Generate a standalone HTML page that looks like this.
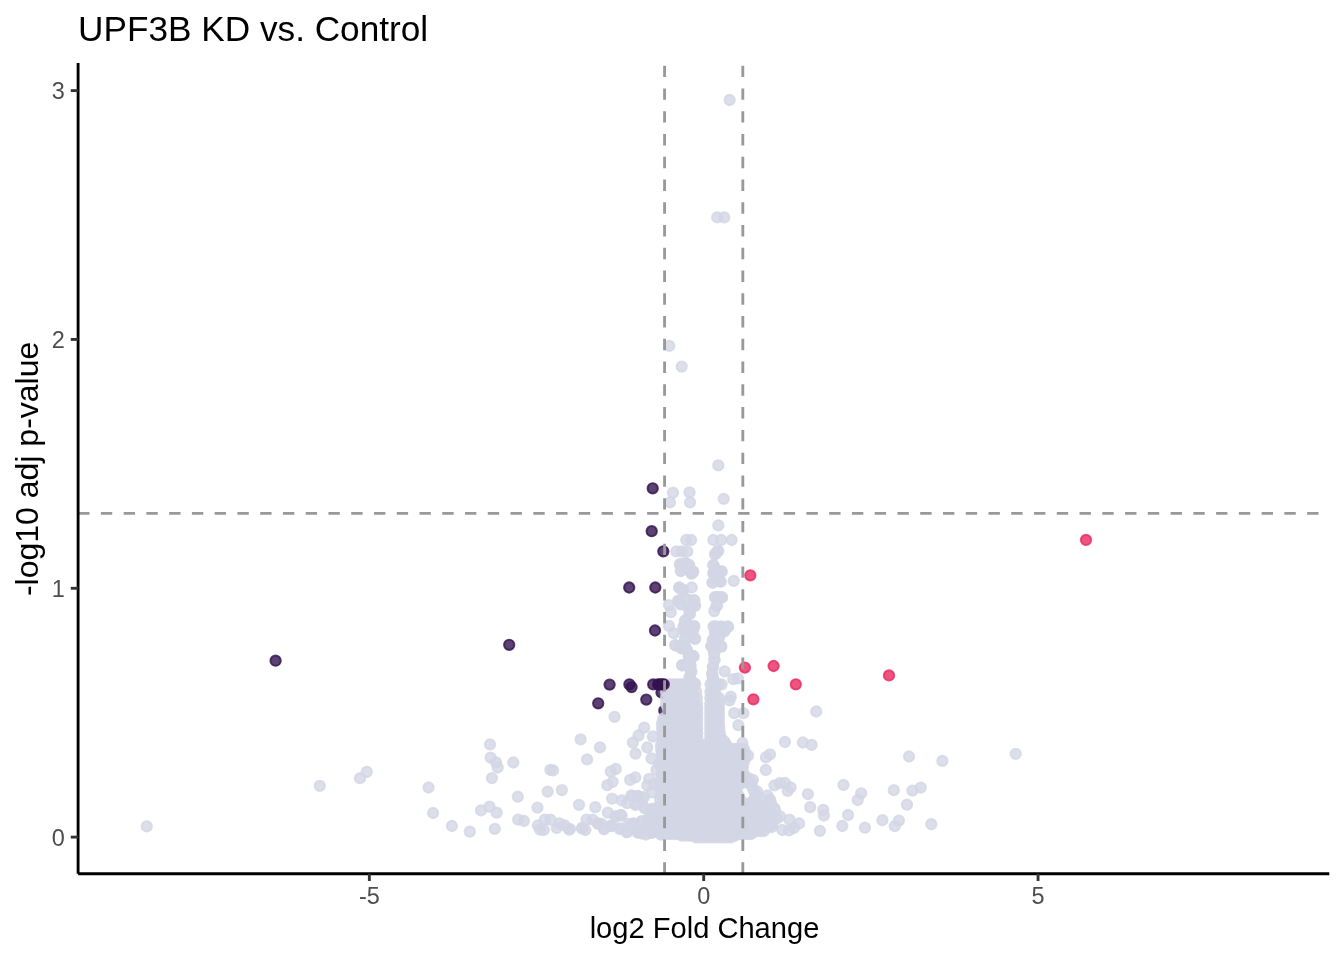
<!DOCTYPE html>
<html><head><meta charset="utf-8"><title>UPF3B KD vs. Control</title>
<style>
html,body{margin:0;padding:0;background:#fff}
body{width:1344px;height:960px;overflow:hidden}
svg text{font-family:"Liberation Sans",sans-serif}
</style></head><body>
<svg width="1344" height="960" viewBox="0 0 1344 960" style="display:block">
<rect width="1344" height="960" fill="#fff"/>
<clipPath id="pc"><rect x="78.1" y="63.1" width="1251.2" height="810.6"/></clipPath>
<g clip-path="url(#pc)">

<g fill="#32134F" fill-opacity="0.8" stroke="#32134F" stroke-opacity="0.8" stroke-width="1.9">
<circle cx="661.5" cy="692.5" r="5.2"/>
<circle cx="664.3" cy="710.6" r="5.2"/>
</g>
<g fill="#D3D6E5" fill-opacity="0.8" stroke="#D3D6E5" stroke-opacity="0.8" stroke-width="1.9">
<circle cx="662.5" cy="684.3" r="5.2"/>
<circle cx="665.8" cy="684.3" r="5.2"/>
<circle cx="669.0" cy="684.3" r="5.2"/>
<circle cx="672.3" cy="684.3" r="5.2"/>
<circle cx="675.6" cy="684.3" r="5.2"/>
<circle cx="678.9" cy="684.3" r="5.2"/>
<circle cx="682.1" cy="684.3" r="5.2"/>
<circle cx="685.4" cy="684.3" r="5.2"/>
<circle cx="688.7" cy="684.3" r="5.2"/>
<circle cx="691.9" cy="684.3" r="5.2"/>
<circle cx="695.2" cy="684.3" r="5.2"/>
<circle cx="710.5" cy="684.3" r="5.2"/>
<circle cx="713.3" cy="684.3" r="5.2"/>
<circle cx="716.0" cy="684.3" r="5.2"/>
<circle cx="718.8" cy="684.3" r="5.2"/>
<circle cx="721.6" cy="684.3" r="5.2"/>
<circle cx="666.0" cy="691.8" r="5.2"/>
<circle cx="669.4" cy="691.8" r="5.2"/>
<circle cx="672.7" cy="691.8" r="5.2"/>
<circle cx="676.1" cy="691.8" r="5.2"/>
<circle cx="679.4" cy="691.8" r="5.2"/>
<circle cx="682.8" cy="691.8" r="5.2"/>
<circle cx="686.1" cy="691.8" r="5.2"/>
<circle cx="689.5" cy="691.8" r="5.2"/>
<circle cx="692.8" cy="691.8" r="5.2"/>
<circle cx="696.2" cy="691.8" r="5.2"/>
<circle cx="710.4" cy="691.8" r="5.2"/>
<circle cx="712.7" cy="691.8" r="5.2"/>
<circle cx="715.0" cy="691.8" r="5.2"/>
<circle cx="666.0" cy="697.8" r="5.2"/>
<circle cx="669.4" cy="697.8" r="5.2"/>
<circle cx="672.8" cy="697.8" r="5.2"/>
<circle cx="676.3" cy="697.8" r="5.2"/>
<circle cx="679.7" cy="697.8" r="5.2"/>
<circle cx="683.1" cy="697.8" r="5.2"/>
<circle cx="686.5" cy="697.8" r="5.2"/>
<circle cx="690.0" cy="697.8" r="5.2"/>
<circle cx="693.4" cy="697.8" r="5.2"/>
<circle cx="696.8" cy="697.8" r="5.2"/>
<circle cx="710.3" cy="697.8" r="5.2"/>
<circle cx="713.2" cy="697.8" r="5.2"/>
<circle cx="716.1" cy="697.8" r="5.2"/>
<circle cx="719.0" cy="697.8" r="5.2"/>
<circle cx="666.0" cy="703.8" r="5.2"/>
<circle cx="669.4" cy="703.8" r="5.2"/>
<circle cx="672.9" cy="703.8" r="5.2"/>
<circle cx="676.3" cy="703.8" r="5.2"/>
<circle cx="679.8" cy="703.8" r="5.2"/>
<circle cx="683.2" cy="703.8" r="5.2"/>
<circle cx="686.7" cy="703.8" r="5.2"/>
<circle cx="690.1" cy="703.8" r="5.2"/>
<circle cx="693.6" cy="703.8" r="5.2"/>
<circle cx="697.0" cy="703.8" r="5.2"/>
<circle cx="710.2" cy="703.8" r="5.2"/>
<circle cx="713.1" cy="703.8" r="5.2"/>
<circle cx="716.1" cy="703.8" r="5.2"/>
<circle cx="719.0" cy="703.8" r="5.2"/>
<circle cx="668.0" cy="708.5" r="5.2"/>
<circle cx="671.2" cy="708.5" r="5.2"/>
<circle cx="674.5" cy="708.5" r="5.2"/>
<circle cx="677.7" cy="708.5" r="5.2"/>
<circle cx="681.0" cy="708.5" r="5.2"/>
<circle cx="684.2" cy="708.5" r="5.2"/>
<circle cx="687.5" cy="708.5" r="5.2"/>
<circle cx="690.7" cy="708.5" r="5.2"/>
<circle cx="694.0" cy="708.5" r="5.2"/>
<circle cx="697.2" cy="708.5" r="5.2"/>
<circle cx="710.2" cy="708.5" r="5.2"/>
<circle cx="713.1" cy="708.5" r="5.2"/>
<circle cx="716.1" cy="708.5" r="5.2"/>
<circle cx="719.0" cy="708.5" r="5.2"/>
<circle cx="668.5" cy="713.3" r="5.2"/>
<circle cx="672.1" cy="713.3" r="5.2"/>
<circle cx="675.7" cy="713.3" r="5.2"/>
<circle cx="679.3" cy="713.3" r="5.2"/>
<circle cx="682.9" cy="713.3" r="5.2"/>
<circle cx="686.4" cy="713.3" r="5.2"/>
<circle cx="690.0" cy="713.3" r="5.2"/>
<circle cx="693.6" cy="713.3" r="5.2"/>
<circle cx="697.2" cy="713.3" r="5.2"/>
<circle cx="710.2" cy="713.3" r="5.2"/>
<circle cx="713.1" cy="713.3" r="5.2"/>
<circle cx="716.1" cy="713.3" r="5.2"/>
<circle cx="719.0" cy="713.3" r="5.2"/>
<circle cx="663.5" cy="718.3" r="5.2"/>
<circle cx="666.9" cy="718.3" r="5.2"/>
<circle cx="670.2" cy="718.3" r="5.2"/>
<circle cx="673.6" cy="718.3" r="5.2"/>
<circle cx="677.0" cy="718.3" r="5.2"/>
<circle cx="680.4" cy="718.3" r="5.2"/>
<circle cx="683.7" cy="718.3" r="5.2"/>
<circle cx="687.1" cy="718.3" r="5.2"/>
<circle cx="690.5" cy="718.3" r="5.2"/>
<circle cx="693.8" cy="718.3" r="5.2"/>
<circle cx="697.2" cy="718.3" r="5.2"/>
<circle cx="710.2" cy="718.3" r="5.2"/>
<circle cx="713.1" cy="718.3" r="5.2"/>
<circle cx="716.1" cy="718.3" r="5.2"/>
<circle cx="719.0" cy="718.3" r="5.2"/>
<circle cx="662.0" cy="723.3" r="5.2"/>
<circle cx="665.5" cy="723.3" r="5.2"/>
<circle cx="669.0" cy="723.3" r="5.2"/>
<circle cx="672.6" cy="723.3" r="5.2"/>
<circle cx="676.1" cy="723.3" r="5.2"/>
<circle cx="679.6" cy="723.3" r="5.2"/>
<circle cx="683.1" cy="723.3" r="5.2"/>
<circle cx="686.6" cy="723.3" r="5.2"/>
<circle cx="690.2" cy="723.3" r="5.2"/>
<circle cx="693.7" cy="723.3" r="5.2"/>
<circle cx="697.2" cy="723.3" r="5.2"/>
<circle cx="710.2" cy="723.3" r="5.2"/>
<circle cx="713.1" cy="723.3" r="5.2"/>
<circle cx="716.1" cy="723.3" r="5.2"/>
<circle cx="719.0" cy="723.3" r="5.2"/>
<circle cx="662.0" cy="728.3" r="5.2"/>
<circle cx="665.5" cy="728.3" r="5.2"/>
<circle cx="669.0" cy="728.3" r="5.2"/>
<circle cx="672.6" cy="728.3" r="5.2"/>
<circle cx="676.1" cy="728.3" r="5.2"/>
<circle cx="679.6" cy="728.3" r="5.2"/>
<circle cx="683.1" cy="728.3" r="5.2"/>
<circle cx="686.6" cy="728.3" r="5.2"/>
<circle cx="690.2" cy="728.3" r="5.2"/>
<circle cx="693.7" cy="728.3" r="5.2"/>
<circle cx="697.2" cy="728.3" r="5.2"/>
<circle cx="710.2" cy="728.3" r="5.2"/>
<circle cx="713.3" cy="728.3" r="5.2"/>
<circle cx="716.3" cy="728.3" r="5.2"/>
<circle cx="719.4" cy="728.3" r="5.2"/>
<circle cx="662.5" cy="733.3" r="5.2"/>
<circle cx="666.0" cy="733.3" r="5.2"/>
<circle cx="669.4" cy="733.3" r="5.2"/>
<circle cx="672.9" cy="733.3" r="5.2"/>
<circle cx="676.4" cy="733.3" r="5.2"/>
<circle cx="679.9" cy="733.3" r="5.2"/>
<circle cx="683.3" cy="733.3" r="5.2"/>
<circle cx="686.8" cy="733.3" r="5.2"/>
<circle cx="690.3" cy="733.3" r="5.2"/>
<circle cx="693.7" cy="733.3" r="5.2"/>
<circle cx="697.2" cy="733.3" r="5.2"/>
<circle cx="710.2" cy="733.3" r="5.2"/>
<circle cx="713.4" cy="733.3" r="5.2"/>
<circle cx="716.6" cy="733.3" r="5.2"/>
<circle cx="719.8" cy="733.3" r="5.2"/>
<circle cx="663.0" cy="737.5" r="5.2"/>
<circle cx="666.4" cy="737.5" r="5.2"/>
<circle cx="669.8" cy="737.5" r="5.2"/>
<circle cx="673.3" cy="737.5" r="5.2"/>
<circle cx="676.7" cy="737.5" r="5.2"/>
<circle cx="680.1" cy="737.5" r="5.2"/>
<circle cx="683.5" cy="737.5" r="5.2"/>
<circle cx="686.9" cy="737.5" r="5.2"/>
<circle cx="690.4" cy="737.5" r="5.2"/>
<circle cx="693.8" cy="737.5" r="5.2"/>
<circle cx="697.2" cy="737.5" r="5.2"/>
<circle cx="710.2" cy="737.5" r="5.2"/>
<circle cx="713.8" cy="737.5" r="5.2"/>
<circle cx="717.4" cy="737.5" r="5.2"/>
<circle cx="721.0" cy="737.5" r="5.2"/>
<circle cx="663.0" cy="741.5" r="5.2"/>
<circle cx="666.4" cy="741.5" r="5.2"/>
<circle cx="669.8" cy="741.5" r="5.2"/>
<circle cx="673.3" cy="741.5" r="5.2"/>
<circle cx="676.7" cy="741.5" r="5.2"/>
<circle cx="680.1" cy="741.5" r="5.2"/>
<circle cx="683.5" cy="741.5" r="5.2"/>
<circle cx="686.9" cy="741.5" r="5.2"/>
<circle cx="690.4" cy="741.5" r="5.2"/>
<circle cx="693.8" cy="741.5" r="5.2"/>
<circle cx="697.2" cy="741.5" r="5.2"/>
<circle cx="710.2" cy="741.5" r="5.2"/>
<circle cx="713.8" cy="741.5" r="5.2"/>
<circle cx="717.4" cy="741.5" r="5.2"/>
<circle cx="720.9" cy="741.5" r="5.2"/>
<circle cx="724.5" cy="741.5" r="5.2"/>
<circle cx="661.0" cy="745.0" r="5.2"/>
<circle cx="664.4" cy="745.0" r="5.2"/>
<circle cx="667.9" cy="745.0" r="5.2"/>
<circle cx="671.3" cy="745.0" r="5.2"/>
<circle cx="674.8" cy="745.0" r="5.2"/>
<circle cx="678.2" cy="745.0" r="5.2"/>
<circle cx="681.7" cy="745.0" r="5.2"/>
<circle cx="685.1" cy="745.0" r="5.2"/>
<circle cx="688.6" cy="745.0" r="5.2"/>
<circle cx="692.0" cy="745.0" r="5.2"/>
<circle cx="695.5" cy="745.0" r="5.2"/>
<circle cx="698.9" cy="745.0" r="5.2"/>
<circle cx="702.4" cy="745.0" r="5.2"/>
<circle cx="705.8" cy="745.0" r="5.2"/>
<circle cx="709.3" cy="745.0" r="5.2"/>
<circle cx="712.7" cy="745.0" r="5.2"/>
<circle cx="716.2" cy="745.0" r="5.2"/>
<circle cx="719.6" cy="745.0" r="5.2"/>
<circle cx="723.1" cy="745.0" r="5.2"/>
<circle cx="726.5" cy="745.0" r="5.2"/>
<circle cx="661.0" cy="749.0" r="5.2"/>
<circle cx="664.5" cy="749.0" r="5.2"/>
<circle cx="667.9" cy="749.0" r="5.2"/>
<circle cx="671.4" cy="749.0" r="5.2"/>
<circle cx="674.8" cy="749.0" r="5.2"/>
<circle cx="678.3" cy="749.0" r="5.2"/>
<circle cx="681.8" cy="749.0" r="5.2"/>
<circle cx="685.2" cy="749.0" r="5.2"/>
<circle cx="688.7" cy="749.0" r="5.2"/>
<circle cx="692.1" cy="749.0" r="5.2"/>
<circle cx="695.6" cy="749.0" r="5.2"/>
<circle cx="699.0" cy="749.0" r="5.2"/>
<circle cx="702.5" cy="749.0" r="5.2"/>
<circle cx="706.0" cy="749.0" r="5.2"/>
<circle cx="709.4" cy="749.0" r="5.2"/>
<circle cx="712.9" cy="749.0" r="5.2"/>
<circle cx="716.3" cy="749.0" r="5.2"/>
<circle cx="719.8" cy="749.0" r="5.2"/>
<circle cx="723.2" cy="749.0" r="5.2"/>
<circle cx="726.7" cy="749.0" r="5.2"/>
<circle cx="730.2" cy="749.0" r="5.2"/>
<circle cx="733.6" cy="749.0" r="5.2"/>
<circle cx="737.1" cy="749.0" r="5.2"/>
<circle cx="740.5" cy="749.0" r="5.2"/>
<circle cx="744.0" cy="749.0" r="5.2"/>
<circle cx="661.5" cy="753.3" r="5.2"/>
<circle cx="665.0" cy="753.3" r="5.2"/>
<circle cx="668.5" cy="753.3" r="5.2"/>
<circle cx="672.0" cy="753.3" r="5.2"/>
<circle cx="675.5" cy="753.3" r="5.2"/>
<circle cx="679.0" cy="753.3" r="5.2"/>
<circle cx="682.5" cy="753.3" r="5.2"/>
<circle cx="686.1" cy="753.3" r="5.2"/>
<circle cx="689.6" cy="753.3" r="5.2"/>
<circle cx="693.1" cy="753.3" r="5.2"/>
<circle cx="696.6" cy="753.3" r="5.2"/>
<circle cx="700.1" cy="753.3" r="5.2"/>
<circle cx="703.6" cy="753.3" r="5.2"/>
<circle cx="707.1" cy="753.3" r="5.2"/>
<circle cx="710.6" cy="753.3" r="5.2"/>
<circle cx="714.1" cy="753.3" r="5.2"/>
<circle cx="717.6" cy="753.3" r="5.2"/>
<circle cx="721.1" cy="753.3" r="5.2"/>
<circle cx="724.7" cy="753.3" r="5.2"/>
<circle cx="728.2" cy="753.3" r="5.2"/>
<circle cx="731.7" cy="753.3" r="5.2"/>
<circle cx="735.2" cy="753.3" r="5.2"/>
<circle cx="738.7" cy="753.3" r="5.2"/>
<circle cx="742.2" cy="753.3" r="5.2"/>
<circle cx="745.7" cy="753.3" r="5.2"/>
<circle cx="662.0" cy="757.5" r="5.2"/>
<circle cx="665.5" cy="757.5" r="5.2"/>
<circle cx="668.9" cy="757.5" r="5.2"/>
<circle cx="672.4" cy="757.5" r="5.2"/>
<circle cx="675.8" cy="757.5" r="5.2"/>
<circle cx="679.3" cy="757.5" r="5.2"/>
<circle cx="682.8" cy="757.5" r="5.2"/>
<circle cx="686.2" cy="757.5" r="5.2"/>
<circle cx="689.7" cy="757.5" r="5.2"/>
<circle cx="693.1" cy="757.5" r="5.2"/>
<circle cx="696.6" cy="757.5" r="5.2"/>
<circle cx="700.0" cy="757.5" r="5.2"/>
<circle cx="703.5" cy="757.5" r="5.2"/>
<circle cx="707.0" cy="757.5" r="5.2"/>
<circle cx="710.4" cy="757.5" r="5.2"/>
<circle cx="713.9" cy="757.5" r="5.2"/>
<circle cx="717.3" cy="757.5" r="5.2"/>
<circle cx="720.8" cy="757.5" r="5.2"/>
<circle cx="724.2" cy="757.5" r="5.2"/>
<circle cx="727.7" cy="757.5" r="5.2"/>
<circle cx="731.2" cy="757.5" r="5.2"/>
<circle cx="734.6" cy="757.5" r="5.2"/>
<circle cx="738.1" cy="757.5" r="5.2"/>
<circle cx="741.5" cy="757.5" r="5.2"/>
<circle cx="745.0" cy="757.5" r="5.2"/>
<circle cx="662.0" cy="761.7" r="5.2"/>
<circle cx="665.6" cy="761.7" r="5.2"/>
<circle cx="669.1" cy="761.7" r="5.2"/>
<circle cx="672.7" cy="761.7" r="5.2"/>
<circle cx="676.3" cy="761.7" r="5.2"/>
<circle cx="679.8" cy="761.7" r="5.2"/>
<circle cx="683.4" cy="761.7" r="5.2"/>
<circle cx="687.0" cy="761.7" r="5.2"/>
<circle cx="690.5" cy="761.7" r="5.2"/>
<circle cx="694.1" cy="761.7" r="5.2"/>
<circle cx="697.7" cy="761.7" r="5.2"/>
<circle cx="701.2" cy="761.7" r="5.2"/>
<circle cx="704.8" cy="761.7" r="5.2"/>
<circle cx="708.3" cy="761.7" r="5.2"/>
<circle cx="711.9" cy="761.7" r="5.2"/>
<circle cx="715.5" cy="761.7" r="5.2"/>
<circle cx="719.0" cy="761.7" r="5.2"/>
<circle cx="722.6" cy="761.7" r="5.2"/>
<circle cx="726.2" cy="761.7" r="5.2"/>
<circle cx="729.7" cy="761.7" r="5.2"/>
<circle cx="733.3" cy="761.7" r="5.2"/>
<circle cx="736.9" cy="761.7" r="5.2"/>
<circle cx="740.4" cy="761.7" r="5.2"/>
<circle cx="744.0" cy="761.7" r="5.2"/>
<circle cx="662.0" cy="766.0" r="5.2"/>
<circle cx="665.5" cy="766.0" r="5.2"/>
<circle cx="669.0" cy="766.0" r="5.2"/>
<circle cx="672.6" cy="766.0" r="5.2"/>
<circle cx="676.1" cy="766.0" r="5.2"/>
<circle cx="679.6" cy="766.0" r="5.2"/>
<circle cx="683.1" cy="766.0" r="5.2"/>
<circle cx="686.7" cy="766.0" r="5.2"/>
<circle cx="690.2" cy="766.0" r="5.2"/>
<circle cx="693.7" cy="766.0" r="5.2"/>
<circle cx="697.2" cy="766.0" r="5.2"/>
<circle cx="700.7" cy="766.0" r="5.2"/>
<circle cx="704.3" cy="766.0" r="5.2"/>
<circle cx="707.8" cy="766.0" r="5.2"/>
<circle cx="711.3" cy="766.0" r="5.2"/>
<circle cx="714.8" cy="766.0" r="5.2"/>
<circle cx="718.3" cy="766.0" r="5.2"/>
<circle cx="721.9" cy="766.0" r="5.2"/>
<circle cx="725.4" cy="766.0" r="5.2"/>
<circle cx="728.9" cy="766.0" r="5.2"/>
<circle cx="732.4" cy="766.0" r="5.2"/>
<circle cx="736.0" cy="766.0" r="5.2"/>
<circle cx="739.5" cy="766.0" r="5.2"/>
<circle cx="743.0" cy="766.0" r="5.2"/>
<circle cx="662.0" cy="770.0" r="5.2"/>
<circle cx="665.5" cy="770.0" r="5.2"/>
<circle cx="669.0" cy="770.0" r="5.2"/>
<circle cx="672.5" cy="770.0" r="5.2"/>
<circle cx="676.0" cy="770.0" r="5.2"/>
<circle cx="679.5" cy="770.0" r="5.2"/>
<circle cx="683.0" cy="770.0" r="5.2"/>
<circle cx="686.5" cy="770.0" r="5.2"/>
<circle cx="690.0" cy="770.0" r="5.2"/>
<circle cx="693.5" cy="770.0" r="5.2"/>
<circle cx="697.0" cy="770.0" r="5.2"/>
<circle cx="700.5" cy="770.0" r="5.2"/>
<circle cx="704.0" cy="770.0" r="5.2"/>
<circle cx="707.5" cy="770.0" r="5.2"/>
<circle cx="711.0" cy="770.0" r="5.2"/>
<circle cx="714.5" cy="770.0" r="5.2"/>
<circle cx="718.0" cy="770.0" r="5.2"/>
<circle cx="721.5" cy="770.0" r="5.2"/>
<circle cx="725.0" cy="770.0" r="5.2"/>
<circle cx="728.5" cy="770.0" r="5.2"/>
<circle cx="732.0" cy="770.0" r="5.2"/>
<circle cx="735.5" cy="770.0" r="5.2"/>
<circle cx="739.0" cy="770.0" r="5.2"/>
<circle cx="742.5" cy="770.0" r="5.2"/>
<circle cx="662.0" cy="774.0" r="5.2"/>
<circle cx="665.6" cy="774.0" r="5.2"/>
<circle cx="669.1" cy="774.0" r="5.2"/>
<circle cx="672.7" cy="774.0" r="5.2"/>
<circle cx="676.3" cy="774.0" r="5.2"/>
<circle cx="679.8" cy="774.0" r="5.2"/>
<circle cx="683.4" cy="774.0" r="5.2"/>
<circle cx="687.0" cy="774.0" r="5.2"/>
<circle cx="690.5" cy="774.0" r="5.2"/>
<circle cx="694.1" cy="774.0" r="5.2"/>
<circle cx="697.7" cy="774.0" r="5.2"/>
<circle cx="701.2" cy="774.0" r="5.2"/>
<circle cx="704.8" cy="774.0" r="5.2"/>
<circle cx="708.3" cy="774.0" r="5.2"/>
<circle cx="711.9" cy="774.0" r="5.2"/>
<circle cx="715.5" cy="774.0" r="5.2"/>
<circle cx="719.0" cy="774.0" r="5.2"/>
<circle cx="722.6" cy="774.0" r="5.2"/>
<circle cx="726.2" cy="774.0" r="5.2"/>
<circle cx="729.7" cy="774.0" r="5.2"/>
<circle cx="733.3" cy="774.0" r="5.2"/>
<circle cx="736.9" cy="774.0" r="5.2"/>
<circle cx="740.4" cy="774.0" r="5.2"/>
<circle cx="744.0" cy="774.0" r="5.2"/>
<circle cx="661.0" cy="778.3" r="5.2"/>
<circle cx="664.5" cy="778.3" r="5.2"/>
<circle cx="668.0" cy="778.3" r="5.2"/>
<circle cx="671.6" cy="778.3" r="5.2"/>
<circle cx="675.1" cy="778.3" r="5.2"/>
<circle cx="678.6" cy="778.3" r="5.2"/>
<circle cx="682.1" cy="778.3" r="5.2"/>
<circle cx="685.6" cy="778.3" r="5.2"/>
<circle cx="689.2" cy="778.3" r="5.2"/>
<circle cx="692.7" cy="778.3" r="5.2"/>
<circle cx="696.2" cy="778.3" r="5.2"/>
<circle cx="699.7" cy="778.3" r="5.2"/>
<circle cx="703.2" cy="778.3" r="5.2"/>
<circle cx="706.8" cy="778.3" r="5.2"/>
<circle cx="710.3" cy="778.3" r="5.2"/>
<circle cx="713.8" cy="778.3" r="5.2"/>
<circle cx="717.3" cy="778.3" r="5.2"/>
<circle cx="720.8" cy="778.3" r="5.2"/>
<circle cx="724.4" cy="778.3" r="5.2"/>
<circle cx="727.9" cy="778.3" r="5.2"/>
<circle cx="731.4" cy="778.3" r="5.2"/>
<circle cx="734.9" cy="778.3" r="5.2"/>
<circle cx="738.4" cy="778.3" r="5.2"/>
<circle cx="742.0" cy="778.3" r="5.2"/>
<circle cx="745.5" cy="778.3" r="5.2"/>
<circle cx="749.0" cy="778.3" r="5.2"/>
<circle cx="660.0" cy="782.5" r="5.2"/>
<circle cx="663.5" cy="782.5" r="5.2"/>
<circle cx="667.0" cy="782.5" r="5.2"/>
<circle cx="670.5" cy="782.5" r="5.2"/>
<circle cx="674.0" cy="782.5" r="5.2"/>
<circle cx="677.5" cy="782.5" r="5.2"/>
<circle cx="681.0" cy="782.5" r="5.2"/>
<circle cx="684.5" cy="782.5" r="5.2"/>
<circle cx="688.0" cy="782.5" r="5.2"/>
<circle cx="691.5" cy="782.5" r="5.2"/>
<circle cx="695.0" cy="782.5" r="5.2"/>
<circle cx="698.5" cy="782.5" r="5.2"/>
<circle cx="702.0" cy="782.5" r="5.2"/>
<circle cx="705.5" cy="782.5" r="5.2"/>
<circle cx="709.0" cy="782.5" r="5.2"/>
<circle cx="712.5" cy="782.5" r="5.2"/>
<circle cx="716.0" cy="782.5" r="5.2"/>
<circle cx="719.5" cy="782.5" r="5.2"/>
<circle cx="723.0" cy="782.5" r="5.2"/>
<circle cx="726.5" cy="782.5" r="5.2"/>
<circle cx="730.0" cy="782.5" r="5.2"/>
<circle cx="733.5" cy="782.5" r="5.2"/>
<circle cx="737.0" cy="782.5" r="5.2"/>
<circle cx="740.5" cy="782.5" r="5.2"/>
<circle cx="744.0" cy="782.5" r="5.2"/>
<circle cx="747.5" cy="782.5" r="5.2"/>
<circle cx="751.0" cy="782.5" r="5.2"/>
<circle cx="660.0" cy="786.7" r="5.2"/>
<circle cx="663.5" cy="786.7" r="5.2"/>
<circle cx="667.1" cy="786.7" r="5.2"/>
<circle cx="670.6" cy="786.7" r="5.2"/>
<circle cx="674.2" cy="786.7" r="5.2"/>
<circle cx="677.7" cy="786.7" r="5.2"/>
<circle cx="681.2" cy="786.7" r="5.2"/>
<circle cx="684.8" cy="786.7" r="5.2"/>
<circle cx="688.3" cy="786.7" r="5.2"/>
<circle cx="691.8" cy="786.7" r="5.2"/>
<circle cx="695.4" cy="786.7" r="5.2"/>
<circle cx="698.9" cy="786.7" r="5.2"/>
<circle cx="702.5" cy="786.7" r="5.2"/>
<circle cx="706.0" cy="786.7" r="5.2"/>
<circle cx="709.5" cy="786.7" r="5.2"/>
<circle cx="713.1" cy="786.7" r="5.2"/>
<circle cx="716.6" cy="786.7" r="5.2"/>
<circle cx="720.2" cy="786.7" r="5.2"/>
<circle cx="723.7" cy="786.7" r="5.2"/>
<circle cx="727.2" cy="786.7" r="5.2"/>
<circle cx="730.8" cy="786.7" r="5.2"/>
<circle cx="734.3" cy="786.7" r="5.2"/>
<circle cx="737.8" cy="786.7" r="5.2"/>
<circle cx="752.0" cy="786.7" r="5.2"/>
<circle cx="661.0" cy="791.0" r="5.2"/>
<circle cx="664.6" cy="791.0" r="5.2"/>
<circle cx="668.2" cy="791.0" r="5.2"/>
<circle cx="671.7" cy="791.0" r="5.2"/>
<circle cx="675.3" cy="791.0" r="5.2"/>
<circle cx="678.9" cy="791.0" r="5.2"/>
<circle cx="682.5" cy="791.0" r="5.2"/>
<circle cx="686.0" cy="791.0" r="5.2"/>
<circle cx="689.6" cy="791.0" r="5.2"/>
<circle cx="693.2" cy="791.0" r="5.2"/>
<circle cx="696.8" cy="791.0" r="5.2"/>
<circle cx="700.3" cy="791.0" r="5.2"/>
<circle cx="703.9" cy="791.0" r="5.2"/>
<circle cx="707.5" cy="791.0" r="5.2"/>
<circle cx="711.1" cy="791.0" r="5.2"/>
<circle cx="714.7" cy="791.0" r="5.2"/>
<circle cx="718.2" cy="791.0" r="5.2"/>
<circle cx="721.8" cy="791.0" r="5.2"/>
<circle cx="725.4" cy="791.0" r="5.2"/>
<circle cx="729.0" cy="791.0" r="5.2"/>
<circle cx="732.5" cy="791.0" r="5.2"/>
<circle cx="736.1" cy="791.0" r="5.2"/>
<circle cx="754.0" cy="791.0" r="5.2"/>
<circle cx="661.0" cy="795.0" r="5.2"/>
<circle cx="664.5" cy="795.0" r="5.2"/>
<circle cx="668.0" cy="795.0" r="5.2"/>
<circle cx="671.6" cy="795.0" r="5.2"/>
<circle cx="675.1" cy="795.0" r="5.2"/>
<circle cx="678.6" cy="795.0" r="5.2"/>
<circle cx="682.1" cy="795.0" r="5.2"/>
<circle cx="685.6" cy="795.0" r="5.2"/>
<circle cx="689.1" cy="795.0" r="5.2"/>
<circle cx="692.7" cy="795.0" r="5.2"/>
<circle cx="696.2" cy="795.0" r="5.2"/>
<circle cx="699.7" cy="795.0" r="5.2"/>
<circle cx="703.2" cy="795.0" r="5.2"/>
<circle cx="706.7" cy="795.0" r="5.2"/>
<circle cx="710.3" cy="795.0" r="5.2"/>
<circle cx="713.8" cy="795.0" r="5.2"/>
<circle cx="717.3" cy="795.0" r="5.2"/>
<circle cx="720.8" cy="795.0" r="5.2"/>
<circle cx="724.3" cy="795.0" r="5.2"/>
<circle cx="727.9" cy="795.0" r="5.2"/>
<circle cx="731.4" cy="795.0" r="5.2"/>
<circle cx="734.9" cy="795.0" r="5.2"/>
<circle cx="738.4" cy="795.0" r="5.2"/>
<circle cx="756.0" cy="795.0" r="5.2"/>
<circle cx="660.0" cy="799.0" r="5.2"/>
<circle cx="663.5" cy="799.0" r="5.2"/>
<circle cx="667.0" cy="799.0" r="5.2"/>
<circle cx="670.4" cy="799.0" r="5.2"/>
<circle cx="673.9" cy="799.0" r="5.2"/>
<circle cx="677.4" cy="799.0" r="5.2"/>
<circle cx="680.9" cy="799.0" r="5.2"/>
<circle cx="684.4" cy="799.0" r="5.2"/>
<circle cx="687.9" cy="799.0" r="5.2"/>
<circle cx="691.3" cy="799.0" r="5.2"/>
<circle cx="694.8" cy="799.0" r="5.2"/>
<circle cx="698.3" cy="799.0" r="5.2"/>
<circle cx="701.8" cy="799.0" r="5.2"/>
<circle cx="705.3" cy="799.0" r="5.2"/>
<circle cx="708.7" cy="799.0" r="5.2"/>
<circle cx="712.2" cy="799.0" r="5.2"/>
<circle cx="715.7" cy="799.0" r="5.2"/>
<circle cx="719.2" cy="799.0" r="5.2"/>
<circle cx="722.7" cy="799.0" r="5.2"/>
<circle cx="726.1" cy="799.0" r="5.2"/>
<circle cx="729.6" cy="799.0" r="5.2"/>
<circle cx="733.1" cy="799.0" r="5.2"/>
<circle cx="736.6" cy="799.0" r="5.2"/>
<circle cx="740.1" cy="799.0" r="5.2"/>
<circle cx="754.0" cy="799.0" r="5.2"/>
<circle cx="666.0" cy="803.0" r="5.2"/>
<circle cx="669.5" cy="803.0" r="5.2"/>
<circle cx="673.0" cy="803.0" r="5.2"/>
<circle cx="676.6" cy="803.0" r="5.2"/>
<circle cx="680.1" cy="803.0" r="5.2"/>
<circle cx="683.6" cy="803.0" r="5.2"/>
<circle cx="687.1" cy="803.0" r="5.2"/>
<circle cx="690.6" cy="803.0" r="5.2"/>
<circle cx="694.2" cy="803.0" r="5.2"/>
<circle cx="697.7" cy="803.0" r="5.2"/>
<circle cx="701.2" cy="803.0" r="5.2"/>
<circle cx="704.7" cy="803.0" r="5.2"/>
<circle cx="708.2" cy="803.0" r="5.2"/>
<circle cx="711.8" cy="803.0" r="5.2"/>
<circle cx="715.3" cy="803.0" r="5.2"/>
<circle cx="718.8" cy="803.0" r="5.2"/>
<circle cx="722.3" cy="803.0" r="5.2"/>
<circle cx="725.8" cy="803.0" r="5.2"/>
<circle cx="729.4" cy="803.0" r="5.2"/>
<circle cx="732.9" cy="803.0" r="5.2"/>
<circle cx="736.4" cy="803.0" r="5.2"/>
<circle cx="739.9" cy="803.0" r="5.2"/>
<circle cx="743.4" cy="803.0" r="5.2"/>
<circle cx="750.5" cy="803.0" r="5.2"/>
<circle cx="754.0" cy="803.0" r="5.2"/>
<circle cx="658.0" cy="807.0" r="5.2"/>
<circle cx="661.5" cy="807.0" r="5.2"/>
<circle cx="665.0" cy="807.0" r="5.2"/>
<circle cx="668.4" cy="807.0" r="5.2"/>
<circle cx="671.9" cy="807.0" r="5.2"/>
<circle cx="675.4" cy="807.0" r="5.2"/>
<circle cx="678.9" cy="807.0" r="5.2"/>
<circle cx="682.4" cy="807.0" r="5.2"/>
<circle cx="685.9" cy="807.0" r="5.2"/>
<circle cx="689.3" cy="807.0" r="5.2"/>
<circle cx="692.8" cy="807.0" r="5.2"/>
<circle cx="696.3" cy="807.0" r="5.2"/>
<circle cx="699.8" cy="807.0" r="5.2"/>
<circle cx="703.3" cy="807.0" r="5.2"/>
<circle cx="706.8" cy="807.0" r="5.2"/>
<circle cx="710.2" cy="807.0" r="5.2"/>
<circle cx="713.7" cy="807.0" r="5.2"/>
<circle cx="717.2" cy="807.0" r="5.2"/>
<circle cx="720.7" cy="807.0" r="5.2"/>
<circle cx="724.2" cy="807.0" r="5.2"/>
<circle cx="727.7" cy="807.0" r="5.2"/>
<circle cx="731.1" cy="807.0" r="5.2"/>
<circle cx="734.6" cy="807.0" r="5.2"/>
<circle cx="738.1" cy="807.0" r="5.2"/>
<circle cx="741.6" cy="807.0" r="5.2"/>
<circle cx="745.1" cy="807.0" r="5.2"/>
<circle cx="748.6" cy="807.0" r="5.2"/>
<circle cx="752.0" cy="807.0" r="5.2"/>
<circle cx="755.5" cy="807.0" r="5.2"/>
<circle cx="759.0" cy="807.0" r="5.2"/>
<circle cx="654.0" cy="811.0" r="5.2"/>
<circle cx="657.5" cy="811.0" r="5.2"/>
<circle cx="661.1" cy="811.0" r="5.2"/>
<circle cx="664.6" cy="811.0" r="5.2"/>
<circle cx="668.2" cy="811.0" r="5.2"/>
<circle cx="671.7" cy="811.0" r="5.2"/>
<circle cx="675.3" cy="811.0" r="5.2"/>
<circle cx="678.8" cy="811.0" r="5.2"/>
<circle cx="682.4" cy="811.0" r="5.2"/>
<circle cx="685.9" cy="811.0" r="5.2"/>
<circle cx="689.5" cy="811.0" r="5.2"/>
<circle cx="693.0" cy="811.0" r="5.2"/>
<circle cx="696.6" cy="811.0" r="5.2"/>
<circle cx="700.1" cy="811.0" r="5.2"/>
<circle cx="703.7" cy="811.0" r="5.2"/>
<circle cx="707.2" cy="811.0" r="5.2"/>
<circle cx="710.8" cy="811.0" r="5.2"/>
<circle cx="714.3" cy="811.0" r="5.2"/>
<circle cx="717.9" cy="811.0" r="5.2"/>
<circle cx="721.4" cy="811.0" r="5.2"/>
<circle cx="725.0" cy="811.0" r="5.2"/>
<circle cx="728.5" cy="811.0" r="5.2"/>
<circle cx="732.1" cy="811.0" r="5.2"/>
<circle cx="735.6" cy="811.0" r="5.2"/>
<circle cx="739.2" cy="811.0" r="5.2"/>
<circle cx="742.7" cy="811.0" r="5.2"/>
<circle cx="746.3" cy="811.0" r="5.2"/>
<circle cx="749.8" cy="811.0" r="5.2"/>
<circle cx="753.4" cy="811.0" r="5.2"/>
<circle cx="756.9" cy="811.0" r="5.2"/>
<circle cx="760.5" cy="811.0" r="5.2"/>
<circle cx="764.0" cy="811.0" r="5.2"/>
<circle cx="654.0" cy="815.0" r="5.2"/>
<circle cx="657.5" cy="815.0" r="5.2"/>
<circle cx="661.0" cy="815.0" r="5.2"/>
<circle cx="664.5" cy="815.0" r="5.2"/>
<circle cx="668.0" cy="815.0" r="5.2"/>
<circle cx="671.5" cy="815.0" r="5.2"/>
<circle cx="675.0" cy="815.0" r="5.2"/>
<circle cx="678.5" cy="815.0" r="5.2"/>
<circle cx="682.0" cy="815.0" r="5.2"/>
<circle cx="685.5" cy="815.0" r="5.2"/>
<circle cx="689.0" cy="815.0" r="5.2"/>
<circle cx="692.5" cy="815.0" r="5.2"/>
<circle cx="696.0" cy="815.0" r="5.2"/>
<circle cx="699.5" cy="815.0" r="5.2"/>
<circle cx="703.0" cy="815.0" r="5.2"/>
<circle cx="706.5" cy="815.0" r="5.2"/>
<circle cx="710.0" cy="815.0" r="5.2"/>
<circle cx="713.5" cy="815.0" r="5.2"/>
<circle cx="717.0" cy="815.0" r="5.2"/>
<circle cx="720.5" cy="815.0" r="5.2"/>
<circle cx="724.0" cy="815.0" r="5.2"/>
<circle cx="727.5" cy="815.0" r="5.2"/>
<circle cx="731.0" cy="815.0" r="5.2"/>
<circle cx="734.5" cy="815.0" r="5.2"/>
<circle cx="738.0" cy="815.0" r="5.2"/>
<circle cx="741.5" cy="815.0" r="5.2"/>
<circle cx="745.0" cy="815.0" r="5.2"/>
<circle cx="748.5" cy="815.0" r="5.2"/>
<circle cx="752.0" cy="815.0" r="5.2"/>
<circle cx="755.5" cy="815.0" r="5.2"/>
<circle cx="759.0" cy="815.0" r="5.2"/>
<circle cx="762.5" cy="815.0" r="5.2"/>
<circle cx="766.0" cy="815.0" r="5.2"/>
<circle cx="652.0" cy="819.0" r="5.2"/>
<circle cx="655.5" cy="819.0" r="5.2"/>
<circle cx="659.1" cy="819.0" r="5.2"/>
<circle cx="662.6" cy="819.0" r="5.2"/>
<circle cx="666.2" cy="819.0" r="5.2"/>
<circle cx="669.7" cy="819.0" r="5.2"/>
<circle cx="673.3" cy="819.0" r="5.2"/>
<circle cx="676.8" cy="819.0" r="5.2"/>
<circle cx="680.4" cy="819.0" r="5.2"/>
<circle cx="683.9" cy="819.0" r="5.2"/>
<circle cx="687.5" cy="819.0" r="5.2"/>
<circle cx="691.0" cy="819.0" r="5.2"/>
<circle cx="694.5" cy="819.0" r="5.2"/>
<circle cx="698.1" cy="819.0" r="5.2"/>
<circle cx="701.6" cy="819.0" r="5.2"/>
<circle cx="705.2" cy="819.0" r="5.2"/>
<circle cx="708.7" cy="819.0" r="5.2"/>
<circle cx="712.3" cy="819.0" r="5.2"/>
<circle cx="715.8" cy="819.0" r="5.2"/>
<circle cx="719.4" cy="819.0" r="5.2"/>
<circle cx="722.9" cy="819.0" r="5.2"/>
<circle cx="726.5" cy="819.0" r="5.2"/>
<circle cx="730.0" cy="819.0" r="5.2"/>
<circle cx="733.5" cy="819.0" r="5.2"/>
<circle cx="737.1" cy="819.0" r="5.2"/>
<circle cx="740.6" cy="819.0" r="5.2"/>
<circle cx="744.2" cy="819.0" r="5.2"/>
<circle cx="747.7" cy="819.0" r="5.2"/>
<circle cx="751.3" cy="819.0" r="5.2"/>
<circle cx="754.8" cy="819.0" r="5.2"/>
<circle cx="758.4" cy="819.0" r="5.2"/>
<circle cx="761.9" cy="819.0" r="5.2"/>
<circle cx="765.5" cy="819.0" r="5.2"/>
<circle cx="769.0" cy="819.0" r="5.2"/>
<circle cx="650.0" cy="823.0" r="5.2"/>
<circle cx="653.6" cy="823.0" r="5.2"/>
<circle cx="657.2" cy="823.0" r="5.2"/>
<circle cx="660.8" cy="823.0" r="5.2"/>
<circle cx="664.4" cy="823.0" r="5.2"/>
<circle cx="667.9" cy="823.0" r="5.2"/>
<circle cx="671.5" cy="823.0" r="5.2"/>
<circle cx="675.1" cy="823.0" r="5.2"/>
<circle cx="678.7" cy="823.0" r="5.2"/>
<circle cx="682.3" cy="823.0" r="5.2"/>
<circle cx="685.9" cy="823.0" r="5.2"/>
<circle cx="689.5" cy="823.0" r="5.2"/>
<circle cx="693.1" cy="823.0" r="5.2"/>
<circle cx="696.6" cy="823.0" r="5.2"/>
<circle cx="700.2" cy="823.0" r="5.2"/>
<circle cx="703.8" cy="823.0" r="5.2"/>
<circle cx="707.4" cy="823.0" r="5.2"/>
<circle cx="711.0" cy="823.0" r="5.2"/>
<circle cx="714.6" cy="823.0" r="5.2"/>
<circle cx="718.2" cy="823.0" r="5.2"/>
<circle cx="721.8" cy="823.0" r="5.2"/>
<circle cx="725.4" cy="823.0" r="5.2"/>
<circle cx="728.9" cy="823.0" r="5.2"/>
<circle cx="732.5" cy="823.0" r="5.2"/>
<circle cx="736.1" cy="823.0" r="5.2"/>
<circle cx="739.7" cy="823.0" r="5.2"/>
<circle cx="743.3" cy="823.0" r="5.2"/>
<circle cx="746.9" cy="823.0" r="5.2"/>
<circle cx="750.5" cy="823.0" r="5.2"/>
<circle cx="754.1" cy="823.0" r="5.2"/>
<circle cx="757.6" cy="823.0" r="5.2"/>
<circle cx="761.2" cy="823.0" r="5.2"/>
<circle cx="764.8" cy="823.0" r="5.2"/>
<circle cx="768.4" cy="823.0" r="5.2"/>
<circle cx="772.0" cy="823.0" r="5.2"/>
<circle cx="650.0" cy="827.0" r="5.2"/>
<circle cx="653.6" cy="827.0" r="5.2"/>
<circle cx="657.2" cy="827.0" r="5.2"/>
<circle cx="660.8" cy="827.0" r="5.2"/>
<circle cx="664.4" cy="827.0" r="5.2"/>
<circle cx="667.9" cy="827.0" r="5.2"/>
<circle cx="671.5" cy="827.0" r="5.2"/>
<circle cx="675.1" cy="827.0" r="5.2"/>
<circle cx="678.7" cy="827.0" r="5.2"/>
<circle cx="682.3" cy="827.0" r="5.2"/>
<circle cx="685.9" cy="827.0" r="5.2"/>
<circle cx="689.5" cy="827.0" r="5.2"/>
<circle cx="693.1" cy="827.0" r="5.2"/>
<circle cx="696.6" cy="827.0" r="5.2"/>
<circle cx="700.2" cy="827.0" r="5.2"/>
<circle cx="703.8" cy="827.0" r="5.2"/>
<circle cx="707.4" cy="827.0" r="5.2"/>
<circle cx="711.0" cy="827.0" r="5.2"/>
<circle cx="714.6" cy="827.0" r="5.2"/>
<circle cx="718.2" cy="827.0" r="5.2"/>
<circle cx="721.8" cy="827.0" r="5.2"/>
<circle cx="725.4" cy="827.0" r="5.2"/>
<circle cx="728.9" cy="827.0" r="5.2"/>
<circle cx="732.5" cy="827.0" r="5.2"/>
<circle cx="736.1" cy="827.0" r="5.2"/>
<circle cx="739.7" cy="827.0" r="5.2"/>
<circle cx="743.3" cy="827.0" r="5.2"/>
<circle cx="746.9" cy="827.0" r="5.2"/>
<circle cx="750.5" cy="827.0" r="5.2"/>
<circle cx="754.1" cy="827.0" r="5.2"/>
<circle cx="757.6" cy="827.0" r="5.2"/>
<circle cx="761.2" cy="827.0" r="5.2"/>
<circle cx="764.8" cy="827.0" r="5.2"/>
<circle cx="768.4" cy="827.0" r="5.2"/>
<circle cx="772.0" cy="827.0" r="5.2"/>
<circle cx="652.0" cy="831.0" r="5.2"/>
<circle cx="655.5" cy="831.0" r="5.2"/>
<circle cx="659.0" cy="831.0" r="5.2"/>
<circle cx="662.5" cy="831.0" r="5.2"/>
<circle cx="666.0" cy="831.0" r="5.2"/>
<circle cx="669.5" cy="831.0" r="5.2"/>
<circle cx="673.0" cy="831.0" r="5.2"/>
<circle cx="676.5" cy="831.0" r="5.2"/>
<circle cx="680.0" cy="831.0" r="5.2"/>
<circle cx="683.5" cy="831.0" r="5.2"/>
<circle cx="687.0" cy="831.0" r="5.2"/>
<circle cx="690.5" cy="831.0" r="5.2"/>
<circle cx="694.0" cy="831.0" r="5.2"/>
<circle cx="697.5" cy="831.0" r="5.2"/>
<circle cx="701.0" cy="831.0" r="5.2"/>
<circle cx="704.5" cy="831.0" r="5.2"/>
<circle cx="708.0" cy="831.0" r="5.2"/>
<circle cx="711.5" cy="831.0" r="5.2"/>
<circle cx="715.0" cy="831.0" r="5.2"/>
<circle cx="718.5" cy="831.0" r="5.2"/>
<circle cx="722.0" cy="831.0" r="5.2"/>
<circle cx="725.5" cy="831.0" r="5.2"/>
<circle cx="729.0" cy="831.0" r="5.2"/>
<circle cx="732.5" cy="831.0" r="5.2"/>
<circle cx="736.0" cy="831.0" r="5.2"/>
<circle cx="739.5" cy="831.0" r="5.2"/>
<circle cx="743.0" cy="831.0" r="5.2"/>
<circle cx="746.5" cy="831.0" r="5.2"/>
<circle cx="750.0" cy="831.0" r="5.2"/>
<circle cx="753.5" cy="831.0" r="5.2"/>
<circle cx="757.0" cy="831.0" r="5.2"/>
<circle cx="760.5" cy="831.0" r="5.2"/>
<circle cx="764.0" cy="831.0" r="5.2"/>
<circle cx="661.0" cy="834.0" r="5.2"/>
<circle cx="664.6" cy="834.0" r="5.2"/>
<circle cx="668.2" cy="834.0" r="5.2"/>
<circle cx="671.8" cy="834.0" r="5.2"/>
<circle cx="675.4" cy="834.0" r="5.2"/>
<circle cx="679.0" cy="834.0" r="5.2"/>
<circle cx="682.6" cy="834.0" r="5.2"/>
<circle cx="686.2" cy="834.0" r="5.2"/>
<circle cx="689.8" cy="834.0" r="5.2"/>
<circle cx="693.4" cy="834.0" r="5.2"/>
<circle cx="697.0" cy="834.0" r="5.2"/>
<circle cx="700.6" cy="834.0" r="5.2"/>
<circle cx="704.2" cy="834.0" r="5.2"/>
<circle cx="707.8" cy="834.0" r="5.2"/>
<circle cx="711.4" cy="834.0" r="5.2"/>
<circle cx="715.0" cy="834.0" r="5.2"/>
<circle cx="718.6" cy="834.0" r="5.2"/>
<circle cx="722.2" cy="834.0" r="5.2"/>
<circle cx="725.8" cy="834.0" r="5.2"/>
<circle cx="729.4" cy="834.0" r="5.2"/>
<circle cx="733.0" cy="834.0" r="5.2"/>
<circle cx="736.6" cy="834.0" r="5.2"/>
<circle cx="740.2" cy="834.0" r="5.2"/>
<circle cx="743.8" cy="834.0" r="5.2"/>
<circle cx="747.4" cy="834.0" r="5.2"/>
<circle cx="751.0" cy="834.0" r="5.2"/>
<circle cx="682.0" cy="835.7" r="5.2"/>
<circle cx="685.5" cy="835.7" r="5.2"/>
<circle cx="689.1" cy="835.7" r="5.2"/>
<circle cx="692.6" cy="835.7" r="5.2"/>
<circle cx="696.1" cy="835.7" r="5.2"/>
<circle cx="699.7" cy="835.7" r="5.2"/>
<circle cx="703.2" cy="835.7" r="5.2"/>
<circle cx="706.7" cy="835.7" r="5.2"/>
<circle cx="710.3" cy="835.7" r="5.2"/>
<circle cx="713.8" cy="835.7" r="5.2"/>
<circle cx="717.3" cy="835.7" r="5.2"/>
<circle cx="720.9" cy="835.7" r="5.2"/>
<circle cx="724.4" cy="835.7" r="5.2"/>
<circle cx="727.9" cy="835.7" r="5.2"/>
<circle cx="731.5" cy="835.7" r="5.2"/>
<circle cx="735.0" cy="835.7" r="5.2"/>
<circle cx="696.0" cy="837.3" r="5.2"/>
<circle cx="699.5" cy="837.3" r="5.2"/>
<circle cx="703.0" cy="837.3" r="5.2"/>
<circle cx="706.5" cy="837.3" r="5.2"/>
<circle cx="710.0" cy="837.3" r="5.2"/>
<circle cx="713.5" cy="837.3" r="5.2"/>
<circle cx="717.0" cy="837.3" r="5.2"/>
<circle cx="720.5" cy="837.3" r="5.2"/>
<circle cx="724.0" cy="837.3" r="5.2"/>
<circle cx="727.5" cy="837.3" r="5.2"/>
<circle cx="731.0" cy="837.3" r="5.2"/>
<circle cx="678.2" cy="600.6" r="5.2"/>
<circle cx="680.5" cy="604.0" r="5.2"/>
<circle cx="687.2" cy="599.5" r="5.2"/>
<circle cx="694.0" cy="600.2" r="5.2"/>
<circle cx="694.8" cy="605.5" r="5.2"/>
<circle cx="688.8" cy="608.5" r="5.2"/>
<circle cx="689.5" cy="613.8" r="5.2"/>
<circle cx="685.0" cy="620.5" r="5.2"/>
<circle cx="683.5" cy="626.5" r="5.2"/>
<circle cx="688.8" cy="625.8" r="5.2"/>
<circle cx="694.0" cy="626.1" r="5.2"/>
<circle cx="685.0" cy="631.0" r="5.2"/>
<circle cx="692.5" cy="631.0" r="5.2"/>
<circle cx="694.8" cy="638.5" r="5.2"/>
<circle cx="685.0" cy="638.5" r="5.2"/>
<circle cx="690.0" cy="636.0" r="5.2"/>
<circle cx="675.2" cy="645.2" r="5.2"/>
<circle cx="679.8" cy="646.0" r="5.2"/>
<circle cx="685.0" cy="646.8" r="5.2"/>
<circle cx="686.5" cy="649.8" r="5.2"/>
<circle cx="681.2" cy="648.0" r="5.2"/>
<circle cx="692.5" cy="655.8" r="5.2"/>
<circle cx="688.8" cy="656.5" r="5.2"/>
<circle cx="693.2" cy="656.2" r="5.2"/>
<circle cx="689.5" cy="657.8" r="5.2"/>
<circle cx="682.0" cy="665.2" r="5.2"/>
<circle cx="690.2" cy="665.2" r="5.2"/>
<circle cx="686.0" cy="665.2" r="5.2"/>
<circle cx="691.0" cy="671.2" r="5.2"/>
<circle cx="689.5" cy="677.2" r="5.2"/>
<circle cx="694.0" cy="683.2" r="5.2"/>
<circle cx="690.0" cy="681.0" r="5.2"/>
<circle cx="715.0" cy="597.2" r="5.2"/>
<circle cx="721.8" cy="597.2" r="5.2"/>
<circle cx="718.4" cy="597.2" r="5.2"/>
<circle cx="716.5" cy="605.5" r="5.2"/>
<circle cx="713.5" cy="626.5" r="5.2"/>
<circle cx="715.8" cy="626.5" r="5.2"/>
<circle cx="721.0" cy="626.5" r="5.2"/>
<circle cx="727.8" cy="626.5" r="5.2"/>
<circle cx="724.0" cy="631.0" r="5.2"/>
<circle cx="715.0" cy="632.5" r="5.2"/>
<circle cx="719.5" cy="632.0" r="5.2"/>
<circle cx="718.8" cy="637.0" r="5.2"/>
<circle cx="712.8" cy="640.0" r="5.2"/>
<circle cx="711.2" cy="646.0" r="5.2"/>
<circle cx="715.8" cy="646.0" r="5.2"/>
<circle cx="721.0" cy="646.4" r="5.2"/>
<circle cx="714.2" cy="659.5" r="5.2"/>
<circle cx="713.9" cy="653.0" r="5.2"/>
<circle cx="712.8" cy="666.8" r="5.2"/>
<circle cx="712.0" cy="673.5" r="5.2"/>
<circle cx="712.8" cy="678.0" r="5.2"/>
<circle cx="678.6" cy="600.9" r="5.2"/>
<circle cx="680.9" cy="604.3" r="5.2"/>
<circle cx="687.6" cy="599.8" r="5.2"/>
<circle cx="694.4" cy="600.5" r="5.2"/>
<circle cx="695.1" cy="605.8" r="5.2"/>
<circle cx="689.1" cy="608.8" r="5.2"/>
<circle cx="689.9" cy="614.0" r="5.2"/>
<circle cx="685.4" cy="620.8" r="5.2"/>
<circle cx="683.9" cy="626.8" r="5.2"/>
<circle cx="689.1" cy="626.0" r="5.2"/>
<circle cx="694.4" cy="626.4" r="5.2"/>
<circle cx="685.4" cy="631.3" r="5.2"/>
<circle cx="692.9" cy="631.3" r="5.2"/>
<circle cx="695.1" cy="638.8" r="5.2"/>
<circle cx="685.4" cy="638.8" r="5.2"/>
<circle cx="690.4" cy="636.3" r="5.2"/>
<circle cx="675.6" cy="645.5" r="5.2"/>
<circle cx="680.1" cy="646.3" r="5.2"/>
<circle cx="685.4" cy="647.0" r="5.2"/>
<circle cx="686.9" cy="650.0" r="5.2"/>
<circle cx="681.6" cy="648.3" r="5.2"/>
<circle cx="692.9" cy="656.0" r="5.2"/>
<circle cx="689.1" cy="656.8" r="5.2"/>
<circle cx="693.6" cy="656.5" r="5.2"/>
<circle cx="689.9" cy="658.0" r="5.2"/>
<circle cx="682.4" cy="665.5" r="5.2"/>
<circle cx="690.6" cy="665.5" r="5.2"/>
<circle cx="686.4" cy="665.5" r="5.2"/>
<circle cx="691.4" cy="671.5" r="5.2"/>
<circle cx="689.9" cy="677.5" r="5.2"/>
<circle cx="694.4" cy="683.5" r="5.2"/>
<circle cx="690.4" cy="681.3" r="5.2"/>
<circle cx="715.4" cy="597.5" r="5.2"/>
<circle cx="722.1" cy="597.5" r="5.2"/>
<circle cx="718.8" cy="597.5" r="5.2"/>
<circle cx="716.9" cy="605.8" r="5.2"/>
<circle cx="713.9" cy="626.8" r="5.2"/>
<circle cx="716.1" cy="626.8" r="5.2"/>
<circle cx="721.4" cy="626.8" r="5.2"/>
<circle cx="728.1" cy="626.8" r="5.2"/>
<circle cx="724.4" cy="631.3" r="5.2"/>
<circle cx="715.4" cy="632.8" r="5.2"/>
<circle cx="719.9" cy="632.3" r="5.2"/>
<circle cx="719.1" cy="637.3" r="5.2"/>
<circle cx="713.1" cy="640.3" r="5.2"/>
<circle cx="711.6" cy="646.3" r="5.2"/>
<circle cx="716.1" cy="646.3" r="5.2"/>
<circle cx="721.4" cy="646.7" r="5.2"/>
<circle cx="714.6" cy="659.8" r="5.2"/>
<circle cx="714.3" cy="653.3" r="5.2"/>
<circle cx="713.1" cy="667.0" r="5.2"/>
<circle cx="712.4" cy="673.8" r="5.2"/>
<circle cx="713.1" cy="678.3" r="5.2"/>
</g>
<g fill="#D3D6E5" fill-opacity="0.8" stroke="#D3D6E5" stroke-opacity="0.8" stroke-width="1.9">
<circle cx="729.6" cy="100.0" r="5.2"/>
<circle cx="717.2" cy="217.4" r="5.2"/>
<circle cx="724.3" cy="217.4" r="5.2"/>
<circle cx="669.3" cy="345.9" r="5.2"/>
<circle cx="681.7" cy="366.6" r="5.2"/>
<circle cx="718.3" cy="465.3" r="5.2"/>
<circle cx="673.0" cy="492.7" r="5.2"/>
<circle cx="689.5" cy="492.3" r="5.2"/>
<circle cx="670.0" cy="502.3" r="5.2"/>
<circle cx="690.0" cy="502.3" r="5.2"/>
<circle cx="723.7" cy="498.8" r="5.2"/>
<circle cx="718.3" cy="525.3" r="5.2"/>
<circle cx="686.2" cy="540.0" r="5.2"/>
<circle cx="691.2" cy="540.0" r="5.2"/>
<circle cx="713.3" cy="540.0" r="5.2"/>
<circle cx="721.2" cy="540.0" r="5.2"/>
<circle cx="731.7" cy="540.0" r="5.2"/>
<circle cx="676.3" cy="551.3" r="5.2"/>
<circle cx="681.7" cy="551.3" r="5.2"/>
<circle cx="687.2" cy="551.3" r="5.2"/>
<circle cx="718.3" cy="550.8" r="5.2"/>
<circle cx="715.0" cy="554.2" r="5.2"/>
<circle cx="680.0" cy="564.2" r="5.2"/>
<circle cx="685.8" cy="563.3" r="5.2"/>
<circle cx="689.2" cy="565.0" r="5.2"/>
<circle cx="713.3" cy="565.0" r="5.2"/>
<circle cx="680.8" cy="570.8" r="5.2"/>
<circle cx="693.3" cy="571.7" r="5.2"/>
<circle cx="691.7" cy="573.3" r="5.2"/>
<circle cx="721.7" cy="571.7" r="5.2"/>
<circle cx="713.3" cy="573.3" r="5.2"/>
<circle cx="718.3" cy="575.0" r="5.2"/>
<circle cx="733.7" cy="580.8" r="5.2"/>
<circle cx="712.5" cy="582.5" r="5.2"/>
<circle cx="720.8" cy="581.7" r="5.2"/>
<circle cx="679.2" cy="587.5" r="5.2"/>
<circle cx="691.7" cy="587.5" r="5.2"/>
<circle cx="683.3" cy="590.0" r="5.2"/>
<circle cx="146.8" cy="826.3" r="5.2"/>
<circle cx="319.8" cy="785.8" r="5.2"/>
<circle cx="360.0" cy="778.2" r="5.2"/>
<circle cx="366.8" cy="771.8" r="5.2"/>
<circle cx="614.5" cy="716.8" r="5.2"/>
<circle cx="644.2" cy="727.6" r="5.2"/>
<circle cx="638.5" cy="735.5" r="5.2"/>
<circle cx="652.8" cy="736.5" r="5.2"/>
<circle cx="632.9" cy="742.6" r="5.2"/>
<circle cx="647.3" cy="747.5" r="5.2"/>
<circle cx="635.5" cy="753.7" r="5.2"/>
<circle cx="651.5" cy="758.5" r="5.2"/>
<circle cx="580.6" cy="739.4" r="5.2"/>
<circle cx="600.0" cy="747.3" r="5.2"/>
<circle cx="587.1" cy="759.4" r="5.2"/>
<circle cx="490.0" cy="744.4" r="5.2"/>
<circle cx="490.6" cy="757.7" r="5.2"/>
<circle cx="496.2" cy="762.5" r="5.2"/>
<circle cx="497.7" cy="767.5" r="5.2"/>
<circle cx="513.3" cy="762.5" r="5.2"/>
<circle cx="491.9" cy="778.1" r="5.2"/>
<circle cx="550.4" cy="769.8" r="5.2"/>
<circle cx="553.1" cy="770.4" r="5.2"/>
<circle cx="428.5" cy="787.5" r="5.2"/>
<circle cx="615.8" cy="769.0" r="5.2"/>
<circle cx="610.7" cy="771.5" r="5.2"/>
<circle cx="612.6" cy="781.8" r="5.2"/>
<circle cx="607.3" cy="785.1" r="5.2"/>
<circle cx="635.3" cy="777.4" r="5.2"/>
<circle cx="630.1" cy="779.8" r="5.2"/>
<circle cx="649.2" cy="778.8" r="5.2"/>
<circle cx="656.4" cy="770.0" r="5.2"/>
<circle cx="658.7" cy="763.6" r="5.2"/>
<circle cx="547.7" cy="791.6" r="5.2"/>
<circle cx="561.9" cy="790.1" r="5.2"/>
<circle cx="517.8" cy="796.7" r="5.2"/>
<circle cx="612.1" cy="798.6" r="5.2"/>
<circle cx="621.8" cy="800.4" r="5.2"/>
<circle cx="631.5" cy="795.4" r="5.2"/>
<circle cx="638.0" cy="795.8" r="5.2"/>
<circle cx="643.9" cy="796.9" r="5.2"/>
<circle cx="647.3" cy="785.4" r="5.2"/>
<circle cx="654.2" cy="784.3" r="5.2"/>
<circle cx="651.9" cy="792.3" r="5.2"/>
<circle cx="579.0" cy="804.8" r="5.2"/>
<circle cx="595.3" cy="807.2" r="5.2"/>
<circle cx="537.5" cy="807.6" r="5.2"/>
<circle cx="489.5" cy="806.6" r="5.2"/>
<circle cx="481.0" cy="810.4" r="5.2"/>
<circle cx="496.7" cy="812.7" r="5.2"/>
<circle cx="433.1" cy="813.0" r="5.2"/>
<circle cx="607.8" cy="812.7" r="5.2"/>
<circle cx="620.8" cy="814.8" r="5.2"/>
<circle cx="451.9" cy="826.0" r="5.2"/>
<circle cx="469.8" cy="831.7" r="5.2"/>
<circle cx="494.8" cy="828.8" r="5.2"/>
<circle cx="518.1" cy="819.6" r="5.2"/>
<circle cx="524.0" cy="821.0" r="5.2"/>
<circle cx="537.9" cy="825.4" r="5.2"/>
<circle cx="540.0" cy="829.6" r="5.2"/>
<circle cx="543.8" cy="830.0" r="5.2"/>
<circle cx="544.8" cy="819.6" r="5.2"/>
<circle cx="550.4" cy="819.6" r="5.2"/>
<circle cx="556.7" cy="827.9" r="5.2"/>
<circle cx="559.4" cy="823.3" r="5.2"/>
<circle cx="564.6" cy="825.4" r="5.2"/>
<circle cx="569.2" cy="829.6" r="5.2"/>
<circle cx="582.3" cy="827.9" r="5.2"/>
<circle cx="585.4" cy="830.0" r="5.2"/>
<circle cx="586.5" cy="819.6" r="5.2"/>
<circle cx="592.7" cy="819.6" r="5.2"/>
<circle cx="597.9" cy="823.8" r="5.2"/>
<circle cx="604.2" cy="829.0" r="5.2"/>
<circle cx="610.4" cy="825.8" r="5.2"/>
<circle cx="615.6" cy="816.5" r="5.2"/>
<circle cx="619.8" cy="829.0" r="5.2"/>
<circle cx="627.1" cy="832.1" r="5.2"/>
<circle cx="627.1" cy="803.1" r="5.2"/>
<circle cx="635.4" cy="805.0" r="5.2"/>
<circle cx="643.8" cy="807.0" r="5.2"/>
<circle cx="633.3" cy="823.8" r="5.2"/>
<circle cx="638.5" cy="832.5" r="5.2"/>
<circle cx="641.7" cy="821.7" r="5.2"/>
<circle cx="647.9" cy="819.6" r="5.2"/>
<circle cx="652.1" cy="832.8" r="5.2"/>
<circle cx="645.0" cy="808.3" r="5.2"/>
<circle cx="654.2" cy="809.5" r="5.2"/>
<circle cx="649.6" cy="817.5" r="5.2"/>
<circle cx="661.0" cy="834.7" r="5.2"/>
<circle cx="601.5" cy="823.8" r="5.2"/>
<circle cx="611.2" cy="826.1" r="5.2"/>
<circle cx="724.7" cy="671.3" r="5.2"/>
<circle cx="733.3" cy="679.2" r="5.2"/>
<circle cx="738.0" cy="678.4" r="5.2"/>
<circle cx="730.8" cy="696.6" r="5.2"/>
<circle cx="729.5" cy="700.3" r="5.2"/>
<circle cx="734.2" cy="713.2" r="5.2"/>
<circle cx="743.4" cy="713.2" r="5.2"/>
<circle cx="738.3" cy="725.2" r="5.2"/>
<circle cx="816.2" cy="711.5" r="5.2"/>
<circle cx="785.0" cy="742.0" r="5.2"/>
<circle cx="802.9" cy="742.5" r="5.2"/>
<circle cx="811.6" cy="744.8" r="5.2"/>
<circle cx="770.0" cy="754.3" r="5.2"/>
<circle cx="766.0" cy="757.3" r="5.2"/>
<circle cx="765.8" cy="770.0" r="5.2"/>
<circle cx="909.0" cy="756.5" r="5.2"/>
<circle cx="942.4" cy="760.8" r="5.2"/>
<circle cx="1015.7" cy="753.9" r="5.2"/>
<circle cx="774.4" cy="785.3" r="5.2"/>
<circle cx="779.8" cy="783.0" r="5.2"/>
<circle cx="785.1" cy="783.0" r="5.2"/>
<circle cx="790.6" cy="787.4" r="5.2"/>
<circle cx="787.7" cy="790.8" r="5.2"/>
<circle cx="807.9" cy="794.1" r="5.2"/>
<circle cx="843.5" cy="785.0" r="5.2"/>
<circle cx="861.2" cy="793.3" r="5.2"/>
<circle cx="857.7" cy="800.0" r="5.2"/>
<circle cx="893.8" cy="790.2" r="5.2"/>
<circle cx="912.4" cy="790.6" r="5.2"/>
<circle cx="920.7" cy="787.6" r="5.2"/>
<circle cx="907.0" cy="804.7" r="5.2"/>
<circle cx="810.2" cy="807.2" r="5.2"/>
<circle cx="823.3" cy="809.8" r="5.2"/>
<circle cx="823.9" cy="815.5" r="5.2"/>
<circle cx="848.1" cy="815.0" r="5.2"/>
<circle cx="842.3" cy="826.0" r="5.2"/>
<circle cx="865.0" cy="827.7" r="5.2"/>
<circle cx="882.4" cy="820.2" r="5.2"/>
<circle cx="898.9" cy="820.6" r="5.2"/>
<circle cx="894.8" cy="826.2" r="5.2"/>
<circle cx="931.3" cy="824.2" r="5.2"/>
<circle cx="819.9" cy="830.8" r="5.2"/>
<circle cx="799.2" cy="823.5" r="5.2"/>
<circle cx="789.4" cy="819.6" r="5.2"/>
<circle cx="780.1" cy="816.3" r="5.2"/>
<circle cx="782.3" cy="830.0" r="5.2"/>
<circle cx="789.2" cy="830.3" r="5.2"/>
<circle cx="794.0" cy="827.8" r="5.2"/>
<circle cx="772.5" cy="824.5" r="5.2"/>
<circle cx="774.6" cy="808.4" r="5.2"/>
<circle cx="767.5" cy="795.5" r="5.2"/>
<circle cx="763.3" cy="805.8" r="5.2"/>
<circle cx="752.9" cy="779.8" r="5.2"/>
<circle cx="757.2" cy="791.5" r="5.2"/>
<circle cx="768.8" cy="812.9" r="5.2"/>
<circle cx="764.2" cy="824.4" r="5.2"/>
<circle cx="758.4" cy="827.8" r="5.2"/>
<circle cx="751.6" cy="833.5" r="5.2"/>
<circle cx="753.9" cy="803.8" r="5.2"/>
<circle cx="748.1" cy="755.6" r="5.2"/>
<circle cx="742.4" cy="743.0" r="5.2"/>
<circle cx="632.0" cy="796.2" r="5.2"/>
<circle cx="637.7" cy="796.2" r="5.2"/>
<circle cx="635.6" cy="804.0" r="5.2"/>
<circle cx="642.9" cy="798.3" r="5.2"/>
<circle cx="652.3" cy="808.8" r="5.2"/>
<circle cx="621.6" cy="815.5" r="5.2"/>
<circle cx="615.8" cy="816.6" r="5.2"/>
<circle cx="598.1" cy="823.3" r="5.2"/>
<circle cx="570.0" cy="829.0" r="5.2"/>
<circle cx="582.0" cy="828.5" r="5.2"/>
<circle cx="603.9" cy="829.1" r="5.2"/>
<circle cx="611.1" cy="825.9" r="5.2"/>
<circle cx="620.0" cy="828.5" r="5.2"/>
<circle cx="626.8" cy="832.2" r="5.2"/>
<circle cx="633.5" cy="823.3" r="5.2"/>
<circle cx="649.2" cy="820.2" r="5.2"/>
<circle cx="637.7" cy="832.7" r="5.2"/>
<circle cx="641.9" cy="821.2" r="5.2"/>
<circle cx="651.2" cy="832.7" r="5.2"/>
<circle cx="644.5" cy="827.0" r="5.2"/>
<circle cx="646.0" cy="834.5" r="5.2"/>
<circle cx="630.0" cy="826.5" r="5.2"/>
<circle cx="636.0" cy="828.0" r="5.2"/>
<circle cx="642.0" cy="833.5" r="5.2"/>
<circle cx="628.5" cy="824.0" r="5.2"/>
<circle cx="771.0" cy="803.0" r="5.2"/>
<circle cx="768.5" cy="806.5" r="5.2"/>
<circle cx="775.0" cy="810.5" r="5.2"/>
<circle cx="770.0" cy="799.5" r="5.2"/>
<circle cx="765.0" cy="801.0" r="5.2"/>
<circle cx="772.0" cy="814.0" r="5.2"/>
<circle cx="777.0" cy="818.5" r="5.2"/>
<circle cx="668.9" cy="605.1" r="5.2"/>
<circle cx="670.8" cy="612.2" r="5.2"/>
<circle cx="668.9" cy="625.8" r="5.2"/>
<circle cx="673.8" cy="633.2" r="5.2"/>
<circle cx="714.2" cy="611.1" r="5.2"/>
<circle cx="680.3" cy="564.5" r="5.2"/>
<circle cx="685.5" cy="563.0" r="5.2"/>
<circle cx="689.0" cy="565.3" r="5.2"/>
<circle cx="681.0" cy="571.0" r="5.2"/>
<circle cx="693.0" cy="571.5" r="5.2"/>
<circle cx="691.5" cy="573.6" r="5.2"/>
<circle cx="684.0" cy="567.0" r="5.2"/>
<circle cx="688.0" cy="569.5" r="5.2"/>
<circle cx="713.5" cy="565.2" r="5.2"/>
<circle cx="721.5" cy="571.4" r="5.2"/>
<circle cx="713.5" cy="573.0" r="5.2"/>
<circle cx="718.0" cy="574.8" r="5.2"/>
<circle cx="712.8" cy="582.6" r="5.2"/>
<circle cx="719.8" cy="581.4" r="5.2"/>
<circle cx="716.0" cy="569.5" r="5.2"/>
<circle cx="715.5" cy="578.0" r="5.2"/>
<circle cx="717.6" cy="551.2" r="5.2"/>
<circle cx="715.6" cy="553.9" r="5.2"/>
<circle cx="716.6" cy="552.5" r="5.2"/>
<circle cx="679.3" cy="587.7" r="5.2"/>
<circle cx="683.0" cy="590.2" r="5.2"/>
<circle cx="681.0" cy="588.8" r="5.2"/>
</g>
<g fill="#32134F" fill-opacity="0.8" stroke="#32134F" stroke-opacity="0.8" stroke-width="1.9">
<circle cx="652.7" cy="488.3" r="5.2"/>
<circle cx="651.7" cy="531.2" r="5.2"/>
<circle cx="663.3" cy="551.3" r="5.2"/>
<circle cx="629.2" cy="587.5" r="5.2"/>
<circle cx="655.3" cy="587.5" r="5.2"/>
<circle cx="655.0" cy="630.5" r="5.2"/>
<circle cx="509.2" cy="644.8" r="5.2"/>
<circle cx="275.6" cy="660.7" r="5.2"/>
<circle cx="609.6" cy="684.6" r="5.2"/>
<circle cx="629.4" cy="684.3" r="5.2"/>
<circle cx="631.6" cy="687.1" r="5.2"/>
<circle cx="653.2" cy="684.4" r="5.2"/>
<circle cx="658.0" cy="684.3" r="5.2"/>
<circle cx="663.8" cy="684.3" r="5.2"/>
<circle cx="646.3" cy="699.6" r="5.2"/>
<circle cx="598.2" cy="703.3" r="5.2"/>
<circle cx="659.8" cy="684.4" r="5.2"/>
<circle cx="662.0" cy="684.3" r="5.2"/>
</g>
<g fill="#EA2960" fill-opacity="0.8" stroke="#EA2960" stroke-opacity="0.8" stroke-width="1.9">
<circle cx="1086.0" cy="539.9" r="5.2"/>
<circle cx="750.3" cy="575.3" r="5.2"/>
<circle cx="744.9" cy="667.6" r="5.2"/>
<circle cx="773.6" cy="666.0" r="5.2"/>
<circle cx="795.8" cy="684.3" r="5.2"/>
<circle cx="753.4" cy="699.3" r="5.2"/>
<circle cx="889.0" cy="675.4" r="5.2"/>
</g>
<line x1="664.58" y1="873.7" x2="664.58" y2="63.1" stroke="#999999" stroke-width="2.85" stroke-dasharray="11.38 11.38"/>
<line x1="742.82" y1="873.7" x2="742.82" y2="63.1" stroke="#999999" stroke-width="2.85" stroke-dasharray="11.38 11.38"/>
<line x1="78.1" y1="513.36" x2="1329.3" y2="513.36" stroke="#999999" stroke-width="2.85" stroke-dasharray="11.38 11.38"/>
</g>
<line x1="78.1" y1="873.7" x2="78.1" y2="63.1" stroke="#000" stroke-width="2.85"/>
<line x1="78.1" y1="873.7" x2="1329.3" y2="873.7" stroke="#000" stroke-width="2.85"/>
<line x1="70.77" y1="837.10" x2="78.1" y2="837.10" stroke="#333" stroke-width="2.85"/>
<text x="64.90" y="845.90" text-anchor="end" font-size="23.47" fill="#4D4D4D">0</text>
<line x1="70.77" y1="588.27" x2="78.1" y2="588.27" stroke="#333" stroke-width="2.85"/>
<text x="64.90" y="597.07" text-anchor="end" font-size="23.47" fill="#4D4D4D">1</text>
<line x1="70.77" y1="339.44" x2="78.1" y2="339.44" stroke="#333" stroke-width="2.85"/>
<text x="64.90" y="348.24" text-anchor="end" font-size="23.47" fill="#4D4D4D">2</text>
<line x1="70.77" y1="90.61" x2="78.1" y2="90.61" stroke="#333" stroke-width="2.85"/>
<text x="64.90" y="99.41" text-anchor="end" font-size="23.47" fill="#4D4D4D">3</text>
<line x1="369.35" y1="873.7" x2="369.35" y2="881.03" stroke="#333" stroke-width="2.85"/>
<text x="369.35" y="904.3" text-anchor="middle" font-size="23.47" fill="#4D4D4D">-5</text>
<line x1="703.70" y1="873.7" x2="703.70" y2="881.03" stroke="#333" stroke-width="2.85"/>
<text x="703.70" y="904.3" text-anchor="middle" font-size="23.47" fill="#4D4D4D">0</text>
<line x1="1038.05" y1="873.7" x2="1038.05" y2="881.03" stroke="#333" stroke-width="2.85"/>
<text x="1038.05" y="904.3" text-anchor="middle" font-size="23.47" fill="#4D4D4D">5</text>
<text x="704.5" y="937.6" text-anchor="middle" font-size="29.1" fill="#000">log2 Fold Change</text>
<text transform="translate(38,468.90) rotate(-90)" text-anchor="middle" font-size="32" fill="#000">-log10 adj p-value</text>
<text x="78.1" y="41.3" font-size="35.2" fill="#000">UPF3B KD vs. Control</text>
</svg>
</body></html>
